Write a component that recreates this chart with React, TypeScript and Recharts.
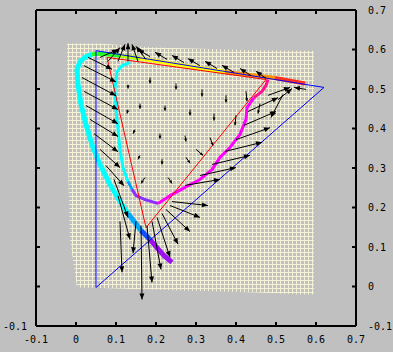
import React from 'react';
import { ComposedChart, XAxis, YAxis, Line, Area } from 'recharts';

const axisTicks = [-0.1, 0, 0.1, 0.2, 0.3, 0.4, 0.5, 0.6, 0.7];

// warped mesh outline (range area): u, lower v, upper v
const meshU = [-0.0225, -0.015, 0.0025, 0.06, 0.2, 0.45, 0.565, 0.595];
const meshLow = [0.42, 0.12, -0.0025, -0.004, -0.008, -0.015, -0.02, -0.02];
const meshHigh = [0.615, 0.615, 0.615, 0.615, 0.605, 0.598, 0.597, 0.597];

// spectral locus, split by colour
const locusViolet = [[0.24, 0.061], [0.22, 0.078], [0.2, 0.101], [0.185, 0.119]];
const locusBlue = [[0.185, 0.119], [0.175, 0.129], [0.1625, 0.142]];
const locusAzure = [[0.1625, 0.142], [0.145, 0.165], [0.13, 0.185]];
const locusCyan = [[0.13, 0.185], [0.11, 0.215], [0.085, 0.258], [0.06, 0.309], [0.04, 0.359], [0.025, 0.41], [0.0125, 0.461], [0.005, 0.511], [0.0025, 0.549], [0.01, 0.57], [0.025, 0.582], [0.04, 0.588]];
const locusGreen = [[0.04, 0.588], [0.06, 0.589], [0.085, 0.587], [0.11, 0.584]];
const locusLime = [[0.11, 0.584], [0.135, 0.581], [0.16, 0.577]];
const locusYellow = [[0.16, 0.577], [0.26, 0.561], [0.3725, 0.543]];
const locusOrange = [[0.3725, 0.543], [0.4975, 0.528]];
const locusRed = [[0.4975, 0.528], [0.5725, 0.514]];

// inner curve
const innerCyan = [[0.135, 0.567], [0.115, 0.559], [0.1025, 0.544], [0.0975, 0.499], [0.1, 0.448], [0.105, 0.397], [0.11, 0.347], [0.1175, 0.301], [0.13, 0.266]];
const innerAzure = [[0.13, 0.266], [0.14, 0.246]];
const innerPurple = [[0.14, 0.246], [0.15, 0.23], [0.1725, 0.22], [0.205, 0.21]];
const innerMagenta = [[0.205, 0.21], [0.235, 0.23], [0.2725, 0.251], [0.31, 0.271], [0.34, 0.296], [0.36, 0.327], [0.385, 0.352], [0.41, 0.385], [0.425, 0.423], [0.4275, 0.453], [0.445, 0.478]];
const innerPink = [[0.445, 0.478], [0.465, 0.494], [0.475, 0.509], [0.48, 0.524]];

// triangles
const redTriangle = [[0.0775, 0.58], [0.175, 0.149], [0.475, 0.524], [0.0775, 0.58]];
const blueTriangle = [[0.05, 0.597], [0.05, -0.0025], [0.62, 0.504], [0.05, 0.597]];

// arrows: u, v, du, dv
const arrows: number[][] = [
  [0.03, 0.58, 0.06, -0.03],
  [0.02, 0.559, 0.08, -0.041],
  [0.015, 0.529, 0.085, -0.046],
  [0.02, 0.494, 0.085, -0.046],
  [0.025, 0.458, 0.08, -0.046],
  [0.035, 0.423, 0.07, -0.043],
  [0.045, 0.387, 0.06, -0.046],
  [0.06, 0.347, 0.05, -0.046],
  [0.075, 0.306, 0.045, -0.051],
  [0.095, 0.271, 0.035, -0.096],
  [0.105, 0.23, 0.03, -0.111],
  [0.06, 0.58, 0.045, 0.02],
  [0.08, 0.57, 0.03, 0.035],
  [0.105, 0.57, 0.0175, 0.043],
  [0.13, 0.57, 0, 0.046],
  [0.155, 0.57, -0.015, 0.043],
  [0.175, 0.575, -0.025, 0.033],
  [0.185, 0.582, -0.03, 0.018],
  [0.2275, 0.575, -0.03, 0.018],
  [0.27, 0.567, -0.03, 0.018],
  [0.31, 0.559, -0.03, 0.018],
  [0.3525, 0.552, -0.03, 0.018],
  [0.395, 0.542, -0.03, 0.018],
  [0.4375, 0.534, -0.0275, 0.018],
  [0.475, 0.527, -0.025, 0.018],
  [0.48, 0.484, 0.055, 0.02],
  [0.505, 0.473, 0.035, 0.028],
  [0.575, 0.499, -0.03, 0.005],
  [0.5175, 0.486, -0.03, -0.058],
  [0.1625, 0.154, 0.0025, -0.187],
  [0.15, 0.165, -0.0075, -0.081],
  [0.1775, 0.154, 0.0125, -0.144],
  [0.19, 0.165, 0.0225, -0.122],
  [0.2025, 0.175, 0.0325, -0.101],
  [0.215, 0.185, 0.04, -0.078],
  [0.225, 0.195, 0.06, -0.056],
  [0.235, 0.205, 0.075, -0.03],
  [0.24, 0.215, 0.09, -0.01],
  [0.11, 0.165, 0.005, -0.129],
  [0.2725, 0.256, 0.0875, 0.015],
  [0.31, 0.281, 0.09, 0.02],
  [0.34, 0.309, 0.095, 0.023],
  [0.3725, 0.342, 0.0925, 0.023],
  [0.4, 0.372, 0.085, 0.03],
  [0.42, 0.408, 0.08, 0.035],
  [0.43, 0.443, 0.075, 0.035],
  [0.185, 0.529, 0, -0.015],
  [0.25, 0.514, 0, -0.015],
  [0.315, 0.499, 0, -0.018],
  [0.375, 0.484, 0, -0.018],
  [0.425, 0.494, 0.0025, -0.025],
  [0.16, 0.463, 0, -0.013],
  [0.2225, 0.458, 0, -0.013],
  [0.285, 0.448, 0, -0.015],
  [0.345, 0.438, 0, -0.018],
  [0.4, 0.433, -0.0025, -0.025],
  [0.1475, 0.397, -0.005, -0.01],
  [0.21, 0.387, 0, -0.013],
  [0.2725, 0.382, 0.0025, -0.015],
  [0.335, 0.377, 0.0075, -0.02],
  [0.16, 0.332, -0.005, -0.01],
  [0.215, 0.322, 0, -0.013],
  [0.275, 0.327, 0.01, -0.015],
  [0.1725, 0.276, -0.01, -0.015],
  [0.23, 0.276, 0.01, -0.015],
  [0.3, 0.347, 0.0175, -0.015],
  [0.13, 0.448, -0.0025, -0.01],
  [0.13, 0.511, 0, -0.01],
  [0.46, 0.463, -0.005, -0.025],
];

const toRows = (pts: number[][]) => pts.map(([u, v]) => ({ u, v }));
const meshData = meshU.map((u, i) => ({ u, range: [meshLow[i], meshHigh[i]] }));
const arrowData: any[] = [];
arrows.forEach(([u, v, du, dv]) => {
  arrowData.push({ u, v });
  arrowData.push({ u: u + du, v: v + dv, du, dv, head: true });
  arrowData.push({ u: u + du, v: null });
});

const fmt = (t: number) => (t === 0 ? '0' : t.toFixed(1));
const font = { fontFamily: 'DejaVu Sans Mono', fontSize: 10, fill: '#000' };
const axisStroke = { stroke: '#000', strokeWidth: 2 };

const renderHead = (p: any) => {
  const { cx, cy, payload, index } = p;
  if (!payload || !payload.head || cx == null || cy == null || isNaN(cx) || isNaN(cy)) {
    return <g key={`h${index}`} />;
  }
  const mag = Math.hypot(payload.du, payload.dv);
  const dx = payload.du / mag;
  const dy = -payload.dv / mag;
  const L = mag < 0.03 ? 3 : 6;
  const W = mag < 0.03 ? 1.5 : 2.5;
  const bx = cx - L * dx;
  const by = cy - L * dy;
  const pts = `${cx},${cy} ${bx - W * dy},${by + W * dx} ${bx + W * dy},${by - W * dx}`;
  return <polygon key={`h${index}`} points={pts} fill="#000" stroke="none" />;
};

const LeftTick = (p: any) => {
  if (!p.payload || p.payload.value !== -0.1) return <g />;
  return (
    <text x={p.x} y={p.y} dy={4} textAnchor="end" {...font}>-0.1</text>
  );
};

const seg = (data: number[][], color: string, width: number, key: string) => (
  <Line
    key={key}
    data={toRows(data)}
    dataKey="v"
    type="linear"
    stroke={color}
    strokeWidth={width}
    dot={false}
    activeDot={false}
    isAnimationActive={false}
    strokeLinejoin="round"
  />
);

export default function App() {
  return (
    <div style={{ position: 'absolute', left: 0, top: 0, width: 393, height: 352, background: '#c0c0c0' }}>
      <ComposedChart width={393} height={352} margin={{ top: 0, right: 0, bottom: 0, left: 0 }}>
        <defs>
          <pattern id="meshPat" x="0" y="0" width="4" height="4" patternUnits="userSpaceOnUse">
            <path d="M0 0.5H4M0.5 0V4" stroke="#f4f1d4" strokeWidth="1" fill="none" />
          </pattern>
        </defs>
        <XAxis
          xAxisId={0}
          dataKey="u"
          type="number"
          domain={[-0.1, 0.7]}
          ticks={axisTicks}
          interval={0}
          allowDataOverflow
          height={26}
          orientation="bottom"
          axisLine={axisStroke}
          tickLine={axisStroke}
          tickSize={-4}
          tickMargin={14}
          tickFormatter={fmt}
          tick={font}
        />
        <XAxis
          xAxisId="top"
          dataKey="u"
          type="number"
          domain={[-0.1, 0.7]}
          ticks={axisTicks}
          interval={0}
          allowDataOverflow
          height={10}
          orientation="top"
          axisLine={axisStroke}
          tickLine={axisStroke}
          tickSize={-4}
          tickFormatter={() => ''}
          tick={font}
        />
        <YAxis
          yAxisId={0}
          type="number"
          domain={[-0.1, 0.7]}
          ticks={axisTicks}
          interval={0}
          allowDataOverflow
          width={37}
          orientation="right"
          axisLine={axisStroke}
          tickLine={axisStroke}
          tickSize={-4}
          tickMargin={16}
          tickFormatter={fmt}
          tick={font}
        />
        <YAxis
          yAxisId="left"
          type="number"
          domain={[-0.1, 0.7]}
          ticks={axisTicks}
          interval={0}
          allowDataOverflow
          width={36}
          orientation="left"
          axisLine={axisStroke}
          tickLine={axisStroke}
          tickSize={-4}
          tickMargin={13}
          tick={<LeftTick />}
        />
        <Area
          data={meshData}
          dataKey="range"
          type="linear"
          stroke="none"
          fill="url(#meshPat)"
          fillOpacity={1}
          isAnimationActive={false}
          activeDot={false}
        />
        {seg(locusViolet, '#9a10f0', 5, 'l1')}
        {seg(locusBlue, '#1050ff', 5, 'l2')}
        {seg(locusAzure, '#00a8ff', 5, 'l3')}
        {seg(locusCyan, '#00ffff', 5, 'l4')}
        {seg(locusGreen, '#20ff20', 4, 'l5')}
        {seg(locusLime, '#b0ff00', 4, 'l6')}
        {seg(locusYellow, '#ffff00', 4, 'l7')}
        {seg(locusOrange, '#ff9000', 4, 'l8')}
        {seg(locusRed, '#ff3020', 4, 'l9')}
        {seg(innerCyan, '#00ffff', 3, 'i1')}
        {seg(innerAzure, '#00a0ff', 3, 'i2')}
        {seg(innerPurple, '#8a30ff', 3, 'i3')}
        {seg(innerMagenta, '#ff00ff', 3, 'i4')}
        {seg(innerPink, '#ff1090', 3, 'i5')}
        {seg(redTriangle, '#ff0000', 1, 'r')}
        {seg(blueTriangle, '#0000ff', 1, 'b')}
        <Line
          data={arrowData}
          dataKey="v"
          type="linear"
          stroke="#000"
          strokeWidth={1}
          connectNulls={false}
          dot={renderHead}
          activeDot={false}
          isAnimationActive={false}
        />
      </ComposedChart>
    </div>
  );
}
